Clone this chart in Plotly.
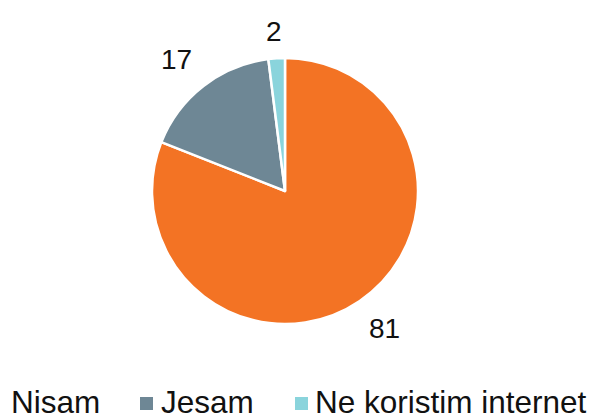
import math
import plotly.graph_objects as go

labels = ["Nisam", "Jesam", "Ne koristim internet"]
values = [81, 17, 2]
colors = ["#F37324", "#6E8795", "#8AD4DC"]

OFF = 8  # page body margin offset
W, H = 595 - OFF, 415 - OFF
cx, cy, r = 285 - OFF, 191 - OFF, 133


def fx(x):
    return x / W


def fy(y):
    return (H - y) / H


fig = go.Figure(go.Pie(
    labels=labels, values=values, sort=False, direction="clockwise", rotation=0,
    marker=dict(colors=colors, line=dict(color="white", width=2.5)),
    textinfo="none",
    domain=dict(x=[fx(cx - r), fx(cx + r)], y=[fy(cy + r), fy(cy - r)]),
    showlegend=False, hoverinfo="label+value",
))

font = dict(family="Liberation Sans, Arial", size=28, color="#111111")
lfont = dict(family="Liberation Sans, Arial", size=31.5, color="#111111")
ann = []

# value labels outside the slices, placed from the data's mid-angles
total = sum(values)
cum = 0
for v in values:
    mid = (cum + v / 2) / total * 2 * math.pi
    cum += v
    sx, sy = math.sin(mid), -math.cos(mid)
    tw = 15.6 * len(str(v))
    th = 28
    d = r + 14 + abs(sx) * tw / 2 + abs(sy) * th / 2
    px, py = cx + sx * d * 1.06, cy + sy * d * 0.99
    ann.append(dict(text=str(v), x=fx(px), y=fy(py), xref="paper", yref="paper",
                    xanchor="center", yanchor="middle", showarrow=False, font=font))

legend_items = [(labels[0], colors[0], 1, -10 - OFF), (labels[1], colors[1], 151, 140 - OFF),
                (labels[2], colors[2], 305, 295 - OFF)]
shapes = []
for name, col, tx, mx in legend_items:
    ann.append(dict(text=name, x=fx(tx), y=fy(394), xref="paper", yref="paper",
                    xanchor="left", yanchor="middle", showarrow=False, font=lfont))
    shapes.append(dict(type="rect", xref="paper", yref="paper", x0=fx(mx), x1=fx(mx + 13),
                       y0=fy(410 - OFF), y1=fy(397 - OFF), fillcolor=col, line=dict(width=0)))

fig.update_layout(width=W, height=H, margin=dict(l=0, r=0, t=0, b=0),
                  paper_bgcolor="white", plot_bgcolor="white",
                  annotations=ann, shapes=shapes)
fig.write_html("out.html")
